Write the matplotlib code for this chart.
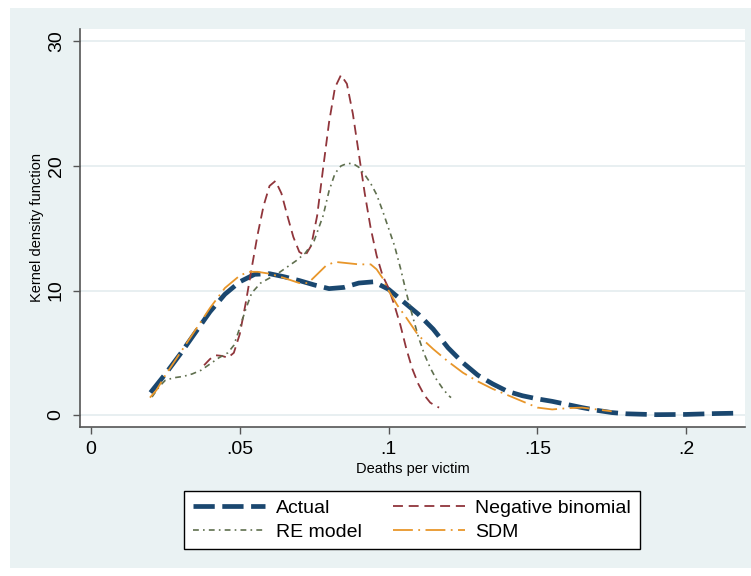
import matplotlib
matplotlib.use("Agg")
import matplotlib.pyplot as plt
from matplotlib.patches import Rectangle

plt.rcParams['font.family'] = ['Liberation Sans', 'DejaVu Sans']

# kernel density curves
actual_x = [0.020, 0.025, 0.030, 0.035, 0.040, 0.045, 0.050, 0.055, 0.060, 0.065,
            0.070, 0.075, 0.080, 0.085, 0.090, 0.095, 0.100, 0.105, 0.110, 0.115,
            0.120, 0.125, 0.130, 0.135, 0.140, 0.145, 0.150, 0.155, 0.160, 0.165,
            0.170, 0.175, 0.180, 0.190, 0.200, 0.210, 0.217]
actual_y = [1.8, 3.3, 4.9, 6.6, 8.3, 9.7, 10.7, 11.3, 11.35, 11.1,
            10.8, 10.45, 10.15, 10.25, 10.6, 10.7, 10.1, 9.1, 8.1, 6.9,
            5.4, 4.2, 3.2, 2.5, 1.9, 1.55, 1.3, 1.1, 0.85, 0.6,
            0.38, 0.2, 0.1, 0.03, 0.05, 0.12, 0.15]

negbin_x = [0.038, 0.040, 0.042, 0.044, 0.046, 0.048, 0.050, 0.052, 0.054, 0.056,
            0.058, 0.060, 0.062, 0.064, 0.066, 0.068, 0.070, 0.072, 0.074, 0.076,
            0.078, 0.080, 0.082, 0.084, 0.086, 0.088, 0.090, 0.092, 0.094, 0.096,
            0.098, 0.100, 0.102, 0.104, 0.106, 0.108, 0.110, 0.112, 0.114, 0.116, 0.117]
negbin_y = [4.0, 4.5, 4.8, 4.75, 4.6, 5.0, 6.5, 9.0, 11.8, 14.5,
            16.8, 18.4, 18.8, 17.8, 16.0, 14.3, 13.1, 12.8, 13.6, 16.0,
            19.8, 23.5, 26.3, 27.3, 26.6, 24.2, 21.0, 17.8, 15.0, 12.8,
            11.2, 10.2, 8.8, 7.2, 5.3, 3.7, 2.5, 1.6, 1.0, 0.7, 0.6]

re_x = [0.0205, 0.023, 0.025, 0.028, 0.031, 0.034, 0.037, 0.040, 0.043, 0.046,
        0.048, 0.050, 0.052, 0.054, 0.057, 0.060, 0.063, 0.066, 0.069, 0.072,
        0.075, 0.078, 0.080, 0.082, 0.084, 0.086, 0.088, 0.090, 0.092, 0.094,
        0.096, 0.098, 0.100, 0.102, 0.104, 0.106, 0.108, 0.110, 0.112, 0.114,
        0.116, 0.118, 0.120, 0.121]
re_y = [1.45, 2.3, 2.8, 3.0, 3.1, 3.3, 3.6, 4.1, 4.6, 5.0,
        5.6, 7.0, 8.5, 9.8, 10.6, 11.0, 11.4, 11.9, 12.4, 13.0,
        14.0, 16.0, 18.0, 19.4, 20.0, 20.2, 20.2, 19.9, 19.3, 18.6,
        17.7, 16.4, 15.0, 13.6, 11.8, 9.8, 8.0, 6.3, 4.9, 3.8,
        2.9, 2.2, 1.6, 1.4]

sdm_x = [0.0198, 0.022, 0.025, 0.030, 0.035, 0.040, 0.045, 0.050, 0.053, 0.056,
         0.060, 0.065, 0.070, 0.073, 0.076, 0.079, 0.082, 0.086, 0.090, 0.094,
         0.096, 0.098, 0.100, 0.103, 0.106, 0.110, 0.115, 0.120, 0.125, 0.130,
         0.135, 0.140, 0.145, 0.150, 0.155, 0.160, 0.165, 0.170, 0.175]
sdm_y = [1.4, 2.0, 3.2, 5.0, 6.8, 8.6, 10.2, 11.2, 11.5, 11.5,
         11.35, 11.0, 10.6, 10.6, 11.3, 12.0, 12.3, 12.2, 12.1, 12.1,
         11.7, 11.0, 10.0, 8.8, 7.8, 6.4, 5.3, 4.3, 3.4, 2.7,
         2.1, 1.6, 1.1, 0.6, 0.45, 0.55, 0.6, 0.45, 0.3]

x_ticks = [0, 0.05, 0.1, 0.15, 0.2]
x_ticklabels = ['0', '.05', '.1', '.15', '.2']
y_ticks = [0, 10, 20, 30]

W, H = 751, 576
fig = plt.figure(figsize=(W / 100, H / 100), dpi=100, facecolor='white')
# stata graph region, behind the axes
fig.patches.append(Rectangle((10 / W, 8 / H), 1 - 10 / W, 1 - 16 / H,
                             transform=fig.transFigure, facecolor='#eaf2f3',
                             edgecolor='none', zorder=-10))

ax = fig.add_axes([80 / W, 1 - 427 / H, 665 / W, 398 / H])
ax.set_facecolor('white')

for y in y_ticks:
    ax.axhline(y, color='#e6eef0', lw=1.3, zorder=0)

l1, = ax.plot(actual_x, actual_y, color='#1a476f', lw=3.4, dashes=(4.5, 1.6))
l2, = ax.plot(negbin_x, negbin_y, color='#90353b', lw=1.3, dashes=(5.5, 3.2))
l3, = ax.plot(re_x, re_y, color='#5f6f4e', lw=1.2, dashes=(3.5, 2.5, 1, 2.5))
l4, = ax.plot(sdm_x, sdm_y, color='#e8962a', lw=1.3, dashes=(11, 3, 1, 3))

ax.set_xlim(-0.0037, 0.2198)
ax.set_ylim(-0.96, 31.0)
ax.set_xticks(x_ticks)
ax.set_xticklabels(x_ticklabels)
ax.set_yticks(y_ticks)
ax.set_yticklabels([str(v) for v in y_ticks], rotation=90, va='center')
ax.tick_params(axis='both', direction='out', length=5, width=1, color='#555555',
               labelsize=14, labelcolor='black')
ax.tick_params(axis='y', pad=6)
ax.tick_params(axis='x', pad=5)

for s in ['top', 'right']:
    ax.spines[s].set_visible(False)
for s in ['left', 'bottom']:
    ax.spines[s].set_color('#555555')
    ax.spines[s].set_linewidth(1.2)

ax.set_xlabel('Deaths per victim', fontsize=10.5, labelpad=3)
ax.set_ylabel('Kernel density function', fontsize=10.5, labelpad=3)

# legend fills by column: Actual / RE model, then Negative binomial / SDM
leg = fig.legend([l1, l3, l2, l4],
                 ['Actual', 'RE model', 'Negative binomial', 'SDM'],
                 ncol=2, loc='center',
                 bbox_to_anchor=(412 / W, 1 - 520 / H), fontsize=14,
                 frameon=True, fancybox=False, edgecolor='black',
                 facecolor='white', framealpha=1, handlelength=3.7,
                 handletextpad=0.55, columnspacing=1.6, labelspacing=0.3,
                 borderpad=0.45, borderaxespad=0)
leg.get_frame().set_linewidth(1.0)

fig.savefig('out.png', dpi=100, facecolor=fig.get_facecolor())
